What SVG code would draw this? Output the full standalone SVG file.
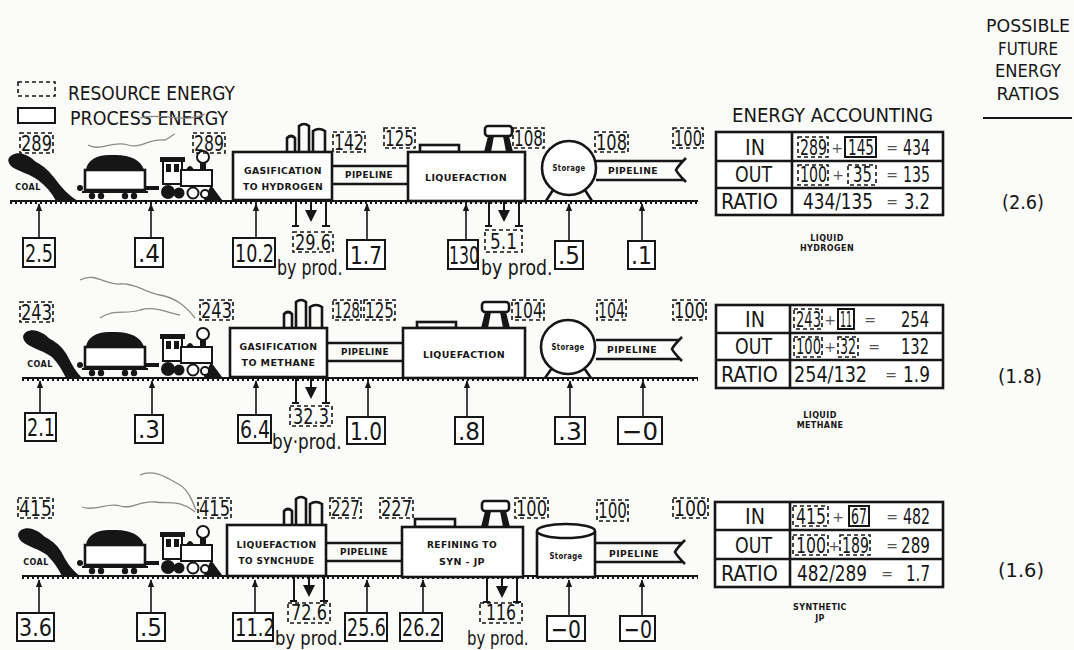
<svg xmlns="http://www.w3.org/2000/svg" xmlns:xlink="http://www.w3.org/1999/xlink" width="1074" height="650" viewBox="0 0 1074 650">
<style>
text{font-family:"DejaVu Sans","Liberation Sans",sans-serif;fill:#161616}
.n{font-size:25px}
.d{font-size:21px}
.tb{font-size:22px}
.bp{font-size:21px}
.bp2{font-size:20px}
.hd{font-size:20px}
.hr{font-size:18px;text-anchor:middle}
.eq{font-size:14px;fill:#555;text-anchor:middle}
.sm{font-size:8px;font-weight:bold;text-anchor:middle;letter-spacing:0.4px}
.md{font-size:9.5px;font-weight:bold;text-anchor:middle;letter-spacing:0.4px}
.ln{stroke:#161616;stroke-width:2;fill:none}
.lt{stroke:#161616;stroke-width:2.6;fill:none}
.box{fill:#fff;stroke:#161616;stroke-width:2}
.pbox{fill:#fff;stroke:#161616;stroke-width:2.6}
.dbox{fill:none;stroke:#161616;stroke-width:1.6;stroke-dasharray:4 3}
.blk{fill:#161616;stroke:none}
.smoke{fill:none;stroke:#8a8a8a;stroke-width:1.3}
.gnd{stroke:#161616;stroke-width:2.2}
.gnd2{stroke:#161616;stroke-width:4;stroke-dasharray:2 3}
.arr{stroke:#161616;stroke-width:1.6;fill:none;marker-end:url(#ah)}
</style>
<defs>
<marker id="ah" viewBox="0 0 10 10" refX="9" refY="5" markerWidth="8" markerHeight="8" markerUnits="userSpaceOnUse" orient="auto">
<path d="M0,1 L10,5 L0,9 Z" fill="#161616"/>
</marker>
<g id="train">
<rect x="85" y="-30" width="60" height="20" class="pbox"/>
<path class="blk" d="M86,-30 C87,-40 98,-46 112,-45 C128,-46 141,-41 144,-30 Z"/>
<line x1="82" y1="-8" x2="148" y2="-8" class="ln"/>
<circle cx="92" cy="-4" r="3.2" class="blk"/><circle cx="101" cy="-4" r="3.2" class="blk"/>
<circle cx="125" cy="-4" r="3.2" class="blk"/><circle cx="134" cy="-4" r="3.2" class="blk"/>
<circle cx="80" cy="-12" r="3" class="blk"/>
<rect x="145" y="-14" width="14" height="4" class="blk"/>
<rect x="163" y="-40" width="19" height="24" class="box"/>
<rect x="160" y="-43" width="25" height="5" class="blk"/>
<rect x="166" y="-36" width="5" height="8" class="blk"/><rect x="174" y="-36" width="5" height="8" class="blk"/>
<rect x="181" y="-30" width="31" height="16" class="box"/>
<rect x="200" y="-37" width="6" height="8" class="blk"/>
<circle cx="203" cy="-43" r="6" class="box"/>
<path class="blk" d="M186,-30 Q190,-38 194,-30 Z"/>
<path class="blk" d="M211,-15 L222,0 L204,0 Z"/>
<circle cx="168" cy="-8" r="7" class="blk"/>
<circle cx="179" cy="-7" r="5.5" class="blk"/>
<circle cx="193" cy="-7" r="5.5" class="box"/>
<circle cx="205" cy="-6" r="4" class="box"/>
</g>
<path id="stacks" class="lt" d="M287,0 V-14 Q291,-18 295,-14 V0 M299,0 V-26 Q304,-30 309,-26 V0 M313,0 V-21 Q319,-25 325,-21 V0"/>
<g id="hatch">
<rect x="485" y="-26" width="27" height="10" rx="3" class="pbox"/>
<path class="blk" d="M488,-16 L484,0 L491,0 L494,-16 Z M509,-16 L513,0 L506,0 L503,-16 Z"/>
</g>
<g id="bracket">
<path class="ln" d="M0,0 V24 M-4,24 H3 M30,0 V24 M26,24 H34"/>
<line x1="15" y1="0" x2="15" y2="8" class="ln"/>
<path class="blk" d="M9,8 L21,8 L15,20 Z"/>
</g>
</defs>
<rect width="1074" height="650" fill="#fbfbf9"/>

<g id="legend">
<rect x="18" y="82" width="37" height="14" class="dbox"/>
<text x="68" y="100" class="hd" textLength="167" lengthAdjust="spacingAndGlyphs">RESOURCE ENERGY</text>
<rect x="18" y="108" width="37" height="15" class="box"/>
<text x="70" y="125" class="hd" textLength="158" lengthAdjust="spacingAndGlyphs">PROCESS ENERGY</text>
<path class="smoke" d="M140,118 C160,112 185,124 205,114"/>
</g>

<g id="future-ratios">
<text x="1028" y="32" class="hr" textLength="84" lengthAdjust="spacingAndGlyphs">POSSIBLE</text>
<text x="1028" y="55" class="hr" textLength="60" lengthAdjust="spacingAndGlyphs">FUTURE</text>
<text x="1028" y="77" class="hr" textLength="66" lengthAdjust="spacingAndGlyphs">ENERGY</text>
<text x="1028" y="100" class="hr" textLength="63" lengthAdjust="spacingAndGlyphs">RATIOS</text>
<line x1="983" y1="118" x2="1072" y2="118" class="ln"/>
<text x="1002" y="209" class="hd" textLength="42" lengthAdjust="spacingAndGlyphs">(2.6)</text>
<text x="998" y="383" class="hd" textLength="44" lengthAdjust="spacingAndGlyphs">(1.8)</text>
<text x="998" y="577" class="hd" textLength="46" lengthAdjust="spacingAndGlyphs">(1.6)</text>
</g>

<!-- ROW 1 : LIQUID HYDROGEN -->
<g id="row1-scene">
<line x1="10" y1="201" x2="698" y2="201" class="gnd"/>
<line x1="10" y1="202" x2="698" y2="202" class="gnd2"/>
<path class="blk" d="M12,155 C20,150 30,156 36,162 C44,166 50,172 56,180 C62,188 68,195 78,201 L56,201 C52,193 46,186 38,180 C30,174 20,172 12,167 C7,162 7,158 12,155 Z"/>
<text x="28" y="190" class="sm">COAL</text>
<use xlink:href="#train" transform="translate(0,200)"/>
<path class="smoke" d="M88,145 C100,152 112,140 128,145 C140,149 150,138 165,140 C170,138 172,135 175,134"/>
</g>
<g id="r1-res-coal"><rect x="20" y="133" width="33" height="20" class="dbox"/><text class="d" transform="translate(21,151) scale(0.773,1)">289</text></g>
<g id="r1-res-train"><rect x="193" y="133" width="32" height="20" class="dbox"/><text class="d" transform="translate(194,151) scale(0.748,1)">289</text></g>
<g id="r1-gasification">
<use xlink:href="#stacks" transform="translate(0,152)"/>
<rect x="233" y="152" width="99" height="48" class="pbox"/>
<text x="283" y="174" class="md" textLength="78" lengthAdjust="spacingAndGlyphs">GASIFICATION</text>
<text x="283" y="190" class="md" textLength="80" lengthAdjust="spacingAndGlyphs">TO HYDROGEN</text>
</g>
<g id="r1-res-142"><rect x="333" y="132" width="32" height="20" class="dbox"/><text class="d" transform="translate(334,150) scale(0.748,1)">142</text></g>
<g id="r1-pipeline1">
<path class="lt" d="M332,166 H408 M332,184 H408"/>
<text x="369" y="178" class="sm" textLength="48" lengthAdjust="spacingAndGlyphs">PIPELINE</text>
</g>
<g id="r1-res-125"><rect x="384" y="128" width="31" height="20" class="dbox"/><text class="d" transform="translate(385,146) scale(0.723,1)">125</text></g>
<g id="r1-liquefaction">
<rect x="420" y="145" width="39" height="7" class="pbox"/>
<use xlink:href="#hatch" transform="translate(0,152)"/>
<rect x="408" y="152" width="117" height="49" class="pbox"/>
<text x="466" y="181" class="md" textLength="82" lengthAdjust="spacingAndGlyphs">LIQUEFACTION</text>
</g>
<g id="r1-res-108a"><rect x="513" y="128" width="31" height="20" class="dbox"/><text class="d" transform="translate(514,146) scale(0.723,1)">108</text></g>
<g id="r1-storage">
<path class="lt" d="M553,190 L546,201 M585,190 L592,201"/>
<circle cx="569" cy="168" r="27" class="pbox"/>
<text x="569" y="171" class="sm" textLength="33" lengthAdjust="spacingAndGlyphs">Storage</text>
</g>
<g id="r1-res-108b"><rect x="595" y="132" width="33" height="20" class="dbox"/><text class="d" transform="translate(596,150) scale(0.773,1)">108</text></g>
<g id="r1-pipeline2">
<path class="lt" d="M596,161 H684 M596,180 H684 M686,158 Q678,166 676,170 Q678,174 686,182"/>
<text x="633" y="174" class="sm" textLength="50" lengthAdjust="spacingAndGlyphs">PIPELINE</text>
</g>
<g id="r1-res-100"><rect x="673" y="128" width="30" height="20" class="dbox"/><text class="d" transform="translate(674,146) scale(0.698,1)">100</text></g>
<g id="r1-p25"><rect x="23" y="238" width="32" height="29" class="box"/><text class="n" transform="translate(25,262) scale(0.704,1)">2.5</text></g>
<g id="r1-p04"><rect x="135" y="238" width="28" height="29" class="box"/><text class="n" transform="translate(138,262) scale(0.922,1)">.4</text></g>
<g id="r1-p102"><rect x="233" y="238" width="42" height="29" class="box"/><text class="n" transform="translate(235,262) scale(0.701,1)">10.2</text></g>
<g id="r1-bp296"><use xlink:href="#bracket" transform="translate(296,202)"/><rect x="293" y="232" width="40" height="20" class="dbox"/><text class="d" transform="translate(295,250) scale(0.769,1)">29.6</text><text class="bp" transform="translate(277,275) scale(0.756,1)">by prod.</text></g>
<g id="r1-p17"><rect x="347" y="240" width="38" height="29" class="box"/><text class="n" transform="translate(350,264) scale(0.805,1)">1.7</text></g>
<g id="r1-p130"><rect x="448" y="240" width="30" height="29" class="box"/><text class="n" transform="translate(449,264) scale(0.629,1)">130</text></g>
<g id="r1-bp51"><use xlink:href="#bracket" transform="translate(489,202)"/><rect x="485" y="230" width="37" height="22" class="dbox"/><text class="d" transform="translate(490,249) scale(0.808,1)">5.1</text><text class="bp" transform="translate(481,275) scale(0.825,1)">by prod.</text></g>
<g id="r1-p05"><rect x="555" y="241" width="28" height="28" class="box"/><text class="n" transform="translate(558,264) scale(0.922,1)">.5</text></g>
<g id="r1-p01"><rect x="628" y="241" width="27" height="28" class="box"/><text class="n" transform="translate(631,264) scale(0.88,1)">.1</text></g>
<g id="r1-table">
<text x="732" y="122" class="hd" textLength="201" lengthAdjust="spacingAndGlyphs">ENERGY ACCOUNTING</text>
<rect x="716" y="132" width="227" height="83" class="pbox"/>
<path class="lt" d="M716,161 H943 M716,188 H943 M792,132 V215"/>
<text class="tb" transform="translate(745,155) scale(0.87,1)">IN</text>
<text class="tb" transform="translate(735,182) scale(0.79,1)">OUT</text>
<text class="tb" transform="translate(721,209) scale(0.874,1)">RATIO</text>
<rect x="798" y="137" width="30" height="20" class="dbox"/><text class="tb" transform="translate(800,155) scale(0.643,1)">289</text>
<text x="837" y="153" class="eq">+</text>
<rect x="845" y="137" width="31" height="20" class="box" stroke-width="1.4"/><text class="tb" transform="translate(848,155) scale(0.62,1)">145</text>
<text x="892" y="153" class="eq">=</text>
<text class="tb" transform="translate(903,155) scale(0.643,1)">434</text>
<rect x="798" y="165" width="30" height="20" class="dbox"/><text class="tb" transform="translate(800,182) scale(0.643,1)">100</text>
<text x="838" y="180" class="eq">+</text>
<rect x="848" y="165" width="28" height="20" class="dbox"/><text class="tb" transform="translate(853,182) scale(0.68,1)">35</text>
<text x="892" y="180" class="eq">=</text>
<text class="tb" transform="translate(903,182) scale(0.643,1)">135</text>
<text class="tb" transform="translate(803,209) scale(0.766,1)">434/135</text>
<text x="892" y="207" class="eq">=</text>
<text class="tb" transform="translate(904,209) scale(0.74,1)">3.2</text>
<text x="827" y="241" class="sm">LIQUID</text>
<text x="827" y="251" class="sm">HYDROGEN</text>
</g>

<!-- ROW 2 : LIQUID METHANE -->
<g id="row2-scene">
<line x1="22" y1="378" x2="698" y2="378" class="gnd"/>
<line x1="22" y1="379" x2="698" y2="379" class="gnd2"/>
<path class="blk" d="M26,332 C34,327 44,333 50,339 C58,343 64,349 68,357 C72,365 76,372 82,378 L66,378 C62,370 58,363 52,357 C44,351 34,349 27,344 C22,339 22,335 26,332 Z"/>
<text x="40" y="367" class="sm">COAL</text>
<use xlink:href="#train" transform="translate(0,377)"/>
<path class="smoke" d="M80,280 C95,272 105,285 120,284 C135,283 145,292 160,295 C175,298 185,305 195,318"/>
<path class="smoke" d="M100,318 C115,308 125,315 140,310 C155,306 165,312 180,315"/>
</g>
<g id="r2-res-coal"><rect x="20" y="302" width="33" height="20" class="dbox"/><text class="d" transform="translate(21,320) scale(0.773,1)">243</text></g>
<g id="r2-res-train"><rect x="200" y="300" width="33" height="20" class="dbox"/><text class="d" transform="translate(201,318) scale(0.773,1)">243</text></g>
<g id="r2-gasification">
<use xlink:href="#stacks" transform="translate(-3,328)"/>
<rect x="230" y="328" width="97" height="49" class="pbox"/>
<text x="278.5" y="350" class="md" textLength="78" lengthAdjust="spacingAndGlyphs">GASIFICATION</text>
<text x="278.5" y="366" class="md" textLength="74" lengthAdjust="spacingAndGlyphs">TO METHANE</text>
</g>
<g id="r2-res-128"><rect x="333" y="300" width="28" height="20" class="dbox"/><text class="d" transform="translate(334,318) scale(0.648,1)">128</text></g>
<g id="r2-res-125"><rect x="364" y="300" width="31" height="20" class="dbox"/><text class="d" transform="translate(365,318) scale(0.723,1)">125</text></g>
<g id="r2-pipeline1">
<path class="lt" d="M327,343 H403 M327,361 H403"/>
<text x="365" y="355" class="sm" textLength="48" lengthAdjust="spacingAndGlyphs">PIPELINE</text>
</g>
<g id="r2-liquefaction">
<rect x="417" y="322" width="39" height="6" class="pbox"/>
<use xlink:href="#hatch" transform="translate(-3,328)"/>
<rect x="403" y="328" width="122" height="50" class="pbox"/>
<text x="464" y="358" class="md" textLength="82" lengthAdjust="spacingAndGlyphs">LIQUEFACTION</text>
</g>
<g id="r2-res-104a"><rect x="512" y="300" width="32" height="20" class="dbox"/><text class="d" transform="translate(513,318) scale(0.748,1)">104</text></g>
<g id="r2-storage">
<path class="lt" d="M552,368 L545,378 M584,368 L591,378"/>
<circle cx="568" cy="347" r="27" class="pbox"/>
<text x="568" y="350" class="sm" textLength="33" lengthAdjust="spacingAndGlyphs">Storage</text>
</g>
<g id="r2-res-104b"><rect x="597" y="300" width="29" height="20" class="dbox"/><text class="d" transform="translate(598,318) scale(0.673,1)">104</text></g>
<g id="r2-pipeline2">
<path class="lt" d="M596,340 H680 M596,359 H680 M682,337 Q674,345 672,349 Q674,353 682,361"/>
<text x="632" y="353" class="sm" textLength="50" lengthAdjust="spacingAndGlyphs">PIPELINE</text>
</g>
<g id="r2-res-100"><rect x="673" y="300" width="33" height="20" class="dbox"/><text class="d" transform="translate(674,318) scale(0.773,1)">100</text></g>
<g id="r2-p21"><rect x="25" y="413" width="31" height="28" class="box"/><text class="n" transform="translate(27,436) scale(0.704,1)">2.1</text></g>
<g id="r2-p03"><rect x="135" y="415" width="28" height="28" class="box"/><text class="n" transform="translate(138,438) scale(0.922,1)">.3</text></g>
<g id="r2-p64"><rect x="238" y="415" width="33" height="28" class="box"/><text class="n" transform="translate(240,438) scale(0.755,1)">6.4</text></g>
<g id="r2-bp323"><use xlink:href="#bracket" transform="translate(296,379)"/><rect x="290" y="406" width="42" height="20" class="dbox"/><text class="d" transform="translate(293,424) scale(0.769,1)">32.3</text><text class="bp" transform="translate(272,449) scale(0.802,1)">by·prod.</text></g>
<g id="r2-p10"><rect x="347" y="417" width="38" height="27" class="box"/><text class="n" transform="translate(350,440) scale(0.805,1)">1.0</text></g>
<g id="r2-p08"><rect x="455" y="417" width="28" height="27" class="box"/><text class="n" transform="translate(458,440) scale(0.922,1)">.8</text></g>
<g id="r2-p03b"><rect x="555" y="417" width="30" height="27" class="box"/><text class="n" transform="translate(558,440)">.3</text></g>
<g id="r2-p00"><rect x="618" y="417" width="44" height="27" class="box"/><text class="n" transform="translate(622,440) scale(0.977,1)">−0</text></g>
<g id="r2-table">
<rect x="716" y="305" width="227" height="83" class="pbox"/>
<path class="lt" d="M716,333 H943 M716,360 H943 M790,305 V388"/>
<text class="tb" transform="translate(745,327) scale(0.87,1)">IN</text>
<text class="tb" transform="translate(735,354) scale(0.79,1)">OUT</text>
<text class="tb" transform="translate(721,382) scale(0.874,1)">RATIO</text>
<rect x="794" y="309" width="28" height="20" class="dbox"/><text class="tb" transform="translate(796,327) scale(0.595,1)">243</text>
<text x="830" y="325" class="eq">+</text>
<rect x="838" y="309" width="16" height="20" class="box" stroke-width="1.4"/><text class="tb" transform="translate(840,327) scale(0.43,1)">11</text>
<text x="870" y="325" class="eq">=</text>
<text class="tb" transform="translate(901,327) scale(0.667,1)">254</text>
<rect x="794" y="337" width="28" height="20" class="dbox"/><text class="tb" transform="translate(796,354) scale(0.595,1)">100</text>
<text x="830" y="352" class="eq">+</text>
<rect x="838" y="337" width="20" height="20" class="dbox"/><text class="tb" transform="translate(840,354) scale(0.571,1)">32</text>
<text x="874" y="352" class="eq">=</text>
<text class="tb" transform="translate(901,354) scale(0.667,1)">132</text>
<text class="tb" transform="translate(794,382) scale(0.8,1)">254/132</text>
<text x="891" y="380" class="eq">=</text>
<text class="tb" transform="translate(903,382) scale(0.77,1)">1.9</text>
<text x="820" y="418" class="sm">LIQUID</text>
<text x="820" y="428" class="sm">METHANE</text>
</g>

<!-- ROW 3 : SYNTHETIC JP -->
<g id="row3-scene">
<line x1="22" y1="576" x2="698" y2="576" class="gnd"/>
<line x1="22" y1="577" x2="698" y2="577" class="gnd2"/>
<path class="blk" d="M21,530 C29,525 39,531 45,537 C53,541 59,547 63,555 C67,563 72,570 80,576 L62,576 C58,568 53,561 47,555 C39,549 29,547 22,542 C17,537 17,533 21,530 Z"/>
<text x="36" y="565" class="sm">COAL</text>
<use xlink:href="#train" transform="translate(0,575)"/>
<path class="smoke" d="M82,507 C95,512 108,502 120,506 C132,510 140,500 155,502 C168,504 180,499 195,512"/>
<path class="smoke" d="M140,475 C155,468 170,480 180,485 C188,490 192,500 196,510"/>
</g>
<g id="r3-res-coal"><rect x="18" y="498" width="35" height="20" class="dbox"/><text class="d" transform="translate(19,516) scale(0.823,1)">415</text></g>
<g id="r3-res-train"><rect x="198" y="498" width="33" height="20" class="dbox"/><text class="d" transform="translate(199,516) scale(0.773,1)">415</text></g>
<g id="r3-liquefaction">
<use xlink:href="#stacks" transform="translate(-3,525)"/>
<rect x="227" y="525" width="99" height="51" class="pbox"/>
<text x="276.5" y="548" class="md" textLength="80" lengthAdjust="spacingAndGlyphs">LIQUEFACTION</text>
<text x="276.5" y="564" class="md" textLength="76" lengthAdjust="spacingAndGlyphs">TO SYNCHUDE</text>
</g>
<g id="r3-res-227a"><rect x="330" y="498" width="31" height="20" class="dbox"/><text class="d" transform="translate(331,516) scale(0.723,1)">227</text></g>
<g id="r3-res-227b"><rect x="380" y="498" width="33" height="20" class="dbox"/><text class="d" transform="translate(381,516) scale(0.773,1)">227</text></g>
<g id="r3-pipeline1">
<path class="lt" d="M326,543 H402 M326,561 H402"/>
<text x="364" y="555" class="sm" textLength="48" lengthAdjust="spacingAndGlyphs">PIPELINE</text>
</g>
<g id="r3-refining">
<rect x="415" y="519" width="40" height="8" class="pbox"/>
<use xlink:href="#hatch" transform="translate(-3,527)"/>
<rect x="402" y="527" width="121" height="50" class="pbox"/>
<text x="462" y="548" class="md" textLength="70" lengthAdjust="spacingAndGlyphs">REFINING TO</text>
<text x="462" y="565" class="md">SYN - JP</text>
</g>
<g id="r3-res-100a"><rect x="515" y="498" width="33" height="20" class="dbox"/><text class="d" transform="translate(516,516) scale(0.773,1)">100</text></g>
<g id="r3-storage">
<path class="pbox" d="M537,531 V577 H595 V531"/>
<ellipse cx="566" cy="531" rx="29" ry="7" class="pbox"/>
<text x="566" y="559" class="sm" textLength="33" lengthAdjust="spacingAndGlyphs">Storage</text>
</g>
<g id="r3-res-100b"><rect x="597" y="500" width="31" height="21" class="dbox"/><text class="d" transform="translate(598,518) scale(0.723,1)">100</text></g>
<g id="r3-pipeline2">
<path class="lt" d="M595,543 H683 M595,562 H683 M685,540 Q677,548 675,552 Q677,556 685,564"/>
<text x="634" y="557" class="sm" textLength="50" lengthAdjust="spacingAndGlyphs">PIPELINE</text>
</g>
<g id="r3-res-100c"><rect x="673" y="498" width="35" height="20" class="dbox"/><text class="d" transform="translate(674,516) scale(0.823,1)">100</text></g>
<g id="r3-p36"><rect x="17" y="613" width="37" height="28" class="box"/><text class="n" transform="translate(19,636) scale(0.83,1)">3.6</text></g>
<g id="r3-p05"><rect x="137" y="613" width="28" height="28" class="box"/><text class="n" transform="translate(140,636) scale(0.922,1)">.5</text></g>
<g id="r3-p112"><rect x="233" y="613" width="40" height="28" class="box"/><text class="n" transform="translate(235,636) scale(0.719,1)">11.2</text></g>
<g id="r3-bp726"><use xlink:href="#bracket" transform="translate(294,577)"/><rect x="288" y="603" width="42" height="20" class="dbox"/><text class="d" transform="translate(291,620) scale(0.769,1)">72.6</text><text class="bp2" transform="translate(275,645) scale(0.818,1)">by prod.</text></g>
<g id="r3-p256"><rect x="345" y="613" width="42" height="28" class="box"/><text class="n" transform="translate(347,636) scale(0.701,1)">25.6</text></g>
<g id="r3-p262"><rect x="400" y="613" width="42" height="28" class="box"/><text class="n" transform="translate(402,636) scale(0.701,1)">26.2</text></g>
<g id="r3-bp116"><use xlink:href="#bracket" transform="translate(487,578)"/><rect x="480" y="603" width="42" height="20" class="dbox"/><text class="d" transform="translate(486,620) scale(0.748,1)">116</text><text class="bp2" transform="translate(467,645) scale(0.746,1)">by prod.</text></g>
<g id="r3-p00a"><rect x="547" y="616" width="38" height="25" class="box"/><text class="n" transform="translate(551,638) scale(0.814,1)">−0</text></g>
<g id="r3-p00b"><rect x="620" y="616" width="35" height="25" class="box"/><text class="n" transform="translate(624,638) scale(0.76,1)">−0</text></g>
<g id="r3-table">
<rect x="715" y="502" width="228" height="85" class="pbox"/>
<path class="lt" d="M715,530 H943 M715,559 H943 M790,502 V587"/>
<text class="tb" transform="translate(745,524) scale(0.87,1)">IN</text>
<text class="tb" transform="translate(735,553) scale(0.79,1)">OUT</text>
<text class="tb" transform="translate(721,581) scale(0.874,1)">RATIO</text>
<rect x="793" y="506" width="35" height="20" class="dbox"/><text class="tb" transform="translate(796,524) scale(0.714,1)">415</text>
<text x="838" y="522" class="eq">+</text>
<rect x="849" y="506" width="20" height="20" class="box" stroke-width="1.4"/><text class="tb" transform="translate(851,524) scale(0.571,1)">67</text>
<text x="892" y="522" class="eq">=</text>
<text class="tb" transform="translate(903,524) scale(0.643,1)">482</text>
<rect x="793" y="535" width="35" height="20" class="dbox"/><text class="tb" transform="translate(796,553) scale(0.714,1)">100</text>
<text x="834" y="551" class="eq">+</text>
<rect x="840" y="535" width="30" height="20" class="dbox"/><text class="tb" transform="translate(842,553) scale(0.643,1)">189</text>
<text x="892" y="551" class="eq">=</text>
<text class="tb" transform="translate(901,553) scale(0.69,1)">289</text>
<text class="tb" transform="translate(797,581) scale(0.766,1)">482/289</text>
<text x="887" y="579" class="eq">=</text>
<text class="tb" transform="translate(906,581) scale(0.686,1)">1.7</text>
<text x="820" y="610" class="sm">SYNTHETIC</text>
<text x="820" y="621" class="sm">JP</text>
</g>

<g id="connectors">
<line x1="39" y1="238" x2="39" y2="204" class="arr"/>
<line x1="151" y1="238" x2="151" y2="204" class="arr"/>
<line x1="256" y1="238" x2="256" y2="204" class="arr"/>
<line x1="367" y1="240" x2="367" y2="204" class="arr"/>
<line x1="466" y1="240" x2="466" y2="204" class="arr"/>
<line x1="569" y1="241" x2="569" y2="204" class="arr"/>
<line x1="642" y1="241" x2="642" y2="204" class="arr"/>
<line x1="40" y1="413" x2="40" y2="381" class="arr"/>
<line x1="152" y1="415" x2="152" y2="381" class="arr"/>
<line x1="256" y1="415" x2="256" y2="381" class="arr"/>
<line x1="368" y1="417" x2="368" y2="381" class="arr"/>
<line x1="467" y1="417" x2="467" y2="381" class="arr"/>
<line x1="570" y1="417" x2="570" y2="381" class="arr"/>
<line x1="643" y1="417" x2="643" y2="381" class="arr"/>
<line x1="39" y1="613" x2="39" y2="580" class="arr"/>
<line x1="151" y1="613" x2="151" y2="580" class="arr"/>
<line x1="255" y1="613" x2="255" y2="580" class="arr"/>
<line x1="367" y1="613" x2="367" y2="580" class="arr"/>
<line x1="423" y1="613" x2="423" y2="580" class="arr"/>
<line x1="569" y1="616" x2="569" y2="580" class="arr"/>
<line x1="642" y1="616" x2="642" y2="580" class="arr"/>
</g>
</svg>
